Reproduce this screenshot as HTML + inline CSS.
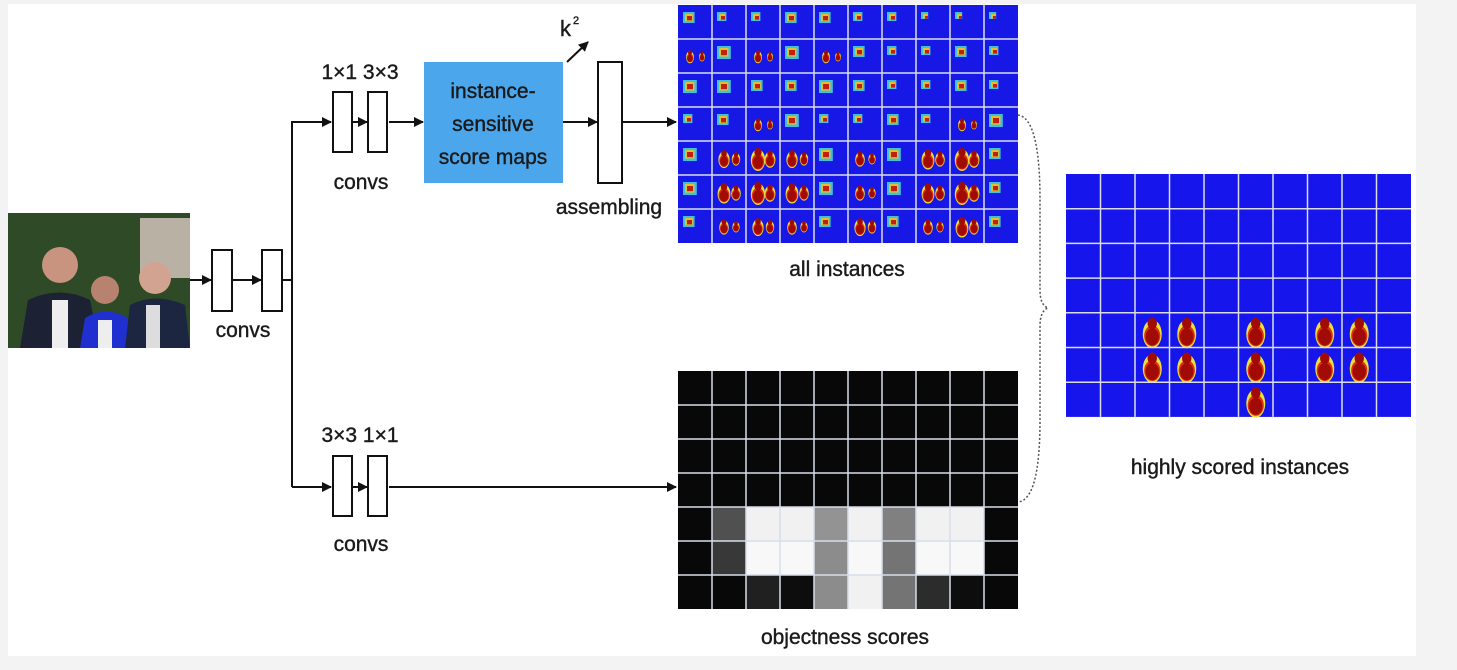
<!DOCTYPE html>
<html><head><meta charset="utf-8"><style>
html,body{margin:0;padding:0;background:#f3f3f3;width:1457px;height:670px;overflow:hidden}
svg{display:block}
text{font-family:"Liberation Sans",sans-serif;fill:#1a1a1a;stroke:#1a1a1a;stroke-width:0.4}
</style></head><body>
<svg id="s" width="1457" height="670" xmlns="http://www.w3.org/2000/svg">
<defs><marker id="ah" markerWidth="10" markerHeight="10" refX="9" refY="5" orient="auto" markerUnits="userSpaceOnUse"><path d="M0,0 L10,5 L0,10 z" fill="#111"/></marker></defs>
<rect x="8" y="4" width="1408" height="652" fill="#fff"/>
<g>
<rect x="8" y="213" width="182" height="135" fill="#2e4a26"/>
<rect x="140" y="218" width="50" height="60" fill="#b9b2a4"/>
<circle cx="60" cy="265" r="18" fill="#c89480"/>
<path d="M20,348 L28,300 Q60,285 90,300 L100,348Z" fill="#1c2233"/>
<rect x="52" y="300" width="16" height="48" fill="#eee"/>
<circle cx="105" cy="290" r="14" fill="#b88270"/>
<path d="M80,348 L85,318 Q105,305 128,318 L132,348Z" fill="#1f2fd0"/>
<rect x="98" y="320" width="14" height="28" fill="#eee"/>
<circle cx="155" cy="278" r="16" fill="#d3a391"/>
<path d="M125,348 L130,305 Q155,292 185,305 L190,348Z" fill="#1d2640"/>
<rect x="146" y="305" width="14" height="43" fill="#ddd"/>
</g>
<g stroke="#111" stroke-width="2" fill="none">
<line x1="190" y1="280" x2="211" y2="280" marker-end="url(#ah)"/>
<line x1="233" y1="280" x2="261" y2="280" marker-end="url(#ah)"/>
<line x1="283" y1="280" x2="292" y2="280"/>
<polyline points="292,487 292,122 331,122" marker-end="url(#ah)"/>
<line x1="292" y1="487" x2="331" y2="487" marker-end="url(#ah)"/>
<line x1="353" y1="122" x2="367" y2="122" marker-end="url(#ah)"/>
<line x1="389" y1="122" x2="423" y2="122" marker-end="url(#ah)"/>
<line x1="563" y1="122" x2="597" y2="122" marker-end="url(#ah)"/>
<line x1="623" y1="122" x2="676" y2="122" marker-end="url(#ah)"/>
<line x1="567" y1="62" x2="588" y2="42" marker-end="url(#ah)"/>
<line x1="353" y1="487" x2="367" y2="487" marker-end="url(#ah)"/>
<line x1="389" y1="487" x2="676" y2="487" marker-end="url(#ah)"/>
</g>
<g fill="#fff" stroke="#111" stroke-width="2">
<rect x="212" y="250" width="20" height="61"/>
<rect x="262" y="250" width="20" height="61"/>
<rect x="333" y="92" width="19" height="60"/>
<rect x="368" y="92" width="19" height="60"/>
<rect x="598" y="62" width="24" height="121"/>
<rect x="333" y="456" width="19" height="60"/>
<rect x="368" y="456" width="19" height="60"/>
</g>
<rect x="424" y="62" width="139" height="121" fill="#4ba6ec"/>
<g font-size="21" text-anchor="middle">
<text x="493" y="98">instance-</text>
<text x="493" y="131">sensitive</text>
<text x="493" y="164">score maps</text>
<text x="243" y="337">convs</text>
<text x="360" y="79">1×1 3×3</text>
<text x="361" y="189">convs</text>
<text x="609" y="214">assembling</text>
<text x="360" y="442">3×3 1×1</text>
<text x="361" y="551">convs</text>
<text x="847" y="276">all instances</text>
<text x="845" y="644">objectness scores</text>
<text x="1240" y="474">highly scored instances</text>
</g>
<text x="560" y="36" font-size="22">k</text><text x="573" y="24" font-size="11">2</text>
<path d="M1018,115 Q1040,118 1040,200 L1040,290 Q1040,305 1048,308 Q1040,311 1040,326 L1040,420 Q1040,500 1018,502" fill="none" stroke="#555" stroke-width="1.5" stroke-dasharray="2,2"/>
<g id="g1"></g><g id="g2"></g><g id="g3"></g>
</svg>
<script>
// objectness scores (0 = black, 1 = white), 7 rows x 10 cols
const objRows=[
[0,0,0,0,0,0,0,0,0,0],
[0,0,0,0,0,0,0,0,0,0],
[0,0,0,0,0,0,0,0,0,0],
[0,0,0,0,0,0,0,0,0,0],
[0,0.3,0.97,0.97,0.58,0.97,0.5,0.97,0.97,0],
[0,0.2,1,1,0.55,1,0.45,1,1,0],
[0,0,0.1,0.02,0.55,0.97,0.45,0.15,0.02,0]];
// highly scored instance blobs [row, col]
const highBlobs=[[4,2],[4,3],[5,2],[5,3],[4,5],[5,5],[6,5],[4,7],[4,8],[5,7],[5,8]];
// all-instances blob strength per cell (0..1)
const allRows=[
[0.3,0.2,0.2,0.3,0.3,0.2,0.2,0.1,0.1,0.1],
[0.5,0.4,0.5,0.4,0.5,0.3,0.2,0.2,0.3,0.2],
[0.4,0.4,0.3,0.3,0.4,0.3,0.2,0.2,0.3,0.2],
[0.2,0.3,0.5,0.4,0.2,0.2,0.3,0.2,0.5,0.4],
[0.4,0.7,0.9,0.7,0.4,0.6,0.4,0.8,0.9,0.3],
[0.4,0.8,0.9,0.8,0.4,0.6,0.4,0.8,0.9,0.3],
[0.3,0.6,0.7,0.6,0.3,0.7,0.3,0.6,0.8,0.3]];
const NS="http://www.w3.org/2000/svg";
function mk(t,a,p){const e=document.createElementNS(NS,t);for(const k in a)e.setAttribute(k,a[k]);p.appendChild(e);return e;}
function grid(p,x0,y0,cw,ch,rows,cols){
 for(let i=1;i<cols;i++)mk('line',{x1:x0+i*cw,y1:y0,x2:x0+i*cw,y2:y0+rows*ch,stroke:'#d8dde8','stroke-width':1.5},p);
 for(let j=1;j<rows;j++)mk('line',{x1:x0,y1:y0+j*ch,x2:x0+cols*cw,y2:y0+j*ch,stroke:'#d8dde8','stroke-width':1.5},p);
}
function blob(p,cx,cy,s){
 mk('ellipse',{cx:cx,cy:cy+3*s,rx:10*s,ry:15*s,fill:'#e8e040'},p);
 mk('ellipse',{cx:cx,cy:cy+5*s,rx:8.5*s,ry:11*s,fill:'#e03010'},p);
 mk('ellipse',{cx:cx,cy:cy+6*s,rx:7*s,ry:9*s,fill:'#a00c05'},p);
 mk('ellipse',{cx:cx,cy:cy-8*s,rx:5*s,ry:6*s,fill:'#a00c05'},p);
}
const g2=document.getElementById('g2');
const ox=678,oy=371,ow=34,oh=34;
objRows.forEach((r,j)=>r.forEach((v,i)=>{
 const c=Math.round(8+v*240);
 const e=mk('rect',{x:ox+i*ow,y:oy+j*oh,width:ow,height:oh,fill:`rgb(${c},${c},${c})`},g2);
 
 
}));
grid(g2,ox,oy,ow,oh,7,10);
const g1=document.getElementById('g1');
const ax=678,ay=5,aw=34,ah=34;
const bg=mk('rect',{x:ax,y:ay,width:aw*10,height:ah*7,fill:'#1818e6'},g1);


allRows.forEach((r,j)=>r.forEach((v,i)=>{
 const cx=ax+i*aw+aw/2, cy=ay+j*ah+ah/2;
 if(v>=0.5){blob(g1,cx-5,cy,v*0.8);blob(g1,cx+7,cy,v*0.6);}
 else{mk('rect',{x:cx-12,y:cy-10,width:22*v+5,height:20*v+5,fill:'#40c0e0'},g1);
      mk('rect',{x:cx-10,y:cy-8,width:16*v+3,height:14*v+3,fill:'#e0c030'},g1);
      mk('rect',{x:cx-8,y:cy-6,width:10*v+2,height:8*v+2,fill:'#c02010'},g1);}
}));
grid(g1,ax,ay,aw,ah,7,10);
const g3=document.getElementById('g3');
const hx=1066,hy=174,hw=34.5,hh=34.7;
const hb=mk('rect',{x:hx,y:hy,width:hw*10,height:hh*7,fill:'#1616ec'},g3);


highBlobs.forEach(([j,i])=>{
 const e=mk('g',{},g3);
 
 
 blob(e,hx+i*hw+hw/2,hy+j*hh+hh/2+1,0.95);
});
grid(g3,hx,hy,hw,hh,7,10);
</script>
</body></html>
